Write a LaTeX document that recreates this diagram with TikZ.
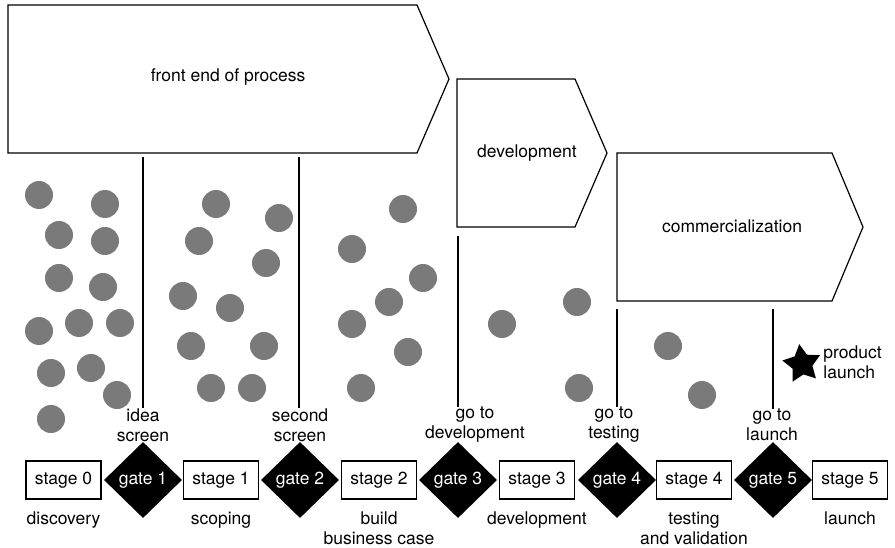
\documentclass[tikz,border=0pt]{standalone}
\usepackage{fontspec}
\setmainfont{TeX Gyre Heros}
\usepackage{tikz}
\usetikzlibrary{positioning, shapes.geometric}

\begin{document}
\begin{tikzpicture}[
  x=1pt, y=-1pt,
  every node/.style={font=\fontsize{17.5}{20}\selectfont, align=center},
  phase/.style={draw, line width=1.2pt, line join=miter},
  split/.style={line width=1.4pt},
  stagebox/.style={draw, line width=1.3pt, minimum width=75pt, minimum height=38pt, inner sep=0pt},
  gate/.style={diamond, fill=black, text=white, minimum width=78pt, minimum height=76pt, inner sep=0pt},
  gatelabel/.style={inner sep=0pt},
  stagelabel/.style={inner sep=0pt, below=12pt of #1},
  idea/.style={circle, fill=black!52, minimum size=28pt, inner sep=0pt},
]
  \useasboundingbox (0,0) rectangle (895,548);

  % Phase arrows
  \draw[phase] (8,5) -- (417,5) -- (449,79) -- (417,153) -- (8,153) -- cycle;
  \node (fe) at (228,77) {front end of process};
  \draw[phase] (457,79) -- (575,79) -- (607,153) -- (575,227) -- (457,227) -- cycle;
  \node (dev) at (527,153) {development};
  \draw[phase] (617,153) -- (832,153) -- (863,227) -- (832,301) -- (617,301) -- cycle;
  \node (com) at (732,226) {commercialization};

  % Ideas
  \foreach \x/\y [count=\i] in {
      39/195, 105/204, 59/235, 105/241, 59/278, 103/287, 39/331, 79/323,
      120/323, 51/373, 91/368, 117/395, 51/419,
      216/204, 279/218, 199/241, 266/263, 183/296, 230/308, 191/346,
      264/346, 211/388, 252/388,
      403/209, 352/249, 423/278, 389/302, 352/324, 408/352, 361/388,
      502/324, 577/302, 579/388,
      668/346, 702/395} {
    \node[idea] (c\i) at (\x,\y) {};
  }

  % Stages
  \node[stagebox] (s0) at (63.5,480) {stage 0};
  \node[stagebox] (s1) at (221,480) {stage 1};
  \node[stagebox] (s2) at (379,480) {stage 2};
  \node[stagebox] (s3) at (537,480) {stage 3};
  \node[stagebox] (s4) at (694,480) {stage 4};
  \node[stagebox] (s5) at (850,480) {stage 5};

  % Gates
  \node[gate] (g1) at (143,480) {gate 1};
  \node[gate] (g2) at (300,480) {gate 2};
  \node[gate] (g3) at (458,480) {gate 3};
  \node[gate] (g4) at (617,480) {gate 4};
  \node[gate] (g5) at (773,480) {gate 5};

  % Stage names
  \node[stagelabel=s0] (n0) {discovery};
  \node[stagelabel=s1] (n1) {scoping};
  \node[stagelabel=s2] (n2) {build\\business case};
  \node[stagelabel=s3] (n3) {development};
  \node[stagelabel=s4] (n4) {testing\\and validation};
  \node[stagelabel=s5] (n5) {launch};

  % Gate names
  \node[gatelabel] (l1) at (143,425) {idea\\screen};
  \node[gatelabel] (l2) at (300,425) {second\\screen};
  \node[gatelabel] (l3) at (475,425) {go to\\development};
  \node[gatelabel] (l4) at (614,425) {go to\\testing};
  \node[gatelabel] (l5) at (772,425) {go to\\launch};

  % Gate lines
  \coordinate (t1) at (143,157);
  \coordinate (t2) at (299,157);
  \coordinate (t3) at (458,236);
  \coordinate (t4) at (617,309);
  \coordinate (t5) at (773,309);
  \foreach \i in {1,...,5} {
    \draw[split] (t\i) -- (t\i |- l\i.north);
  }

  % Launch
  \node[star, star points=5, star point ratio=1.9, fill=black, minimum size=40pt,
        inner sep=0pt, rotate=8] (star) at (802,364) {};
  \node[right=8pt of star, align=left, inner sep=0pt] (pl) {product\\launch};

\end{tikzpicture}
\end{document}
